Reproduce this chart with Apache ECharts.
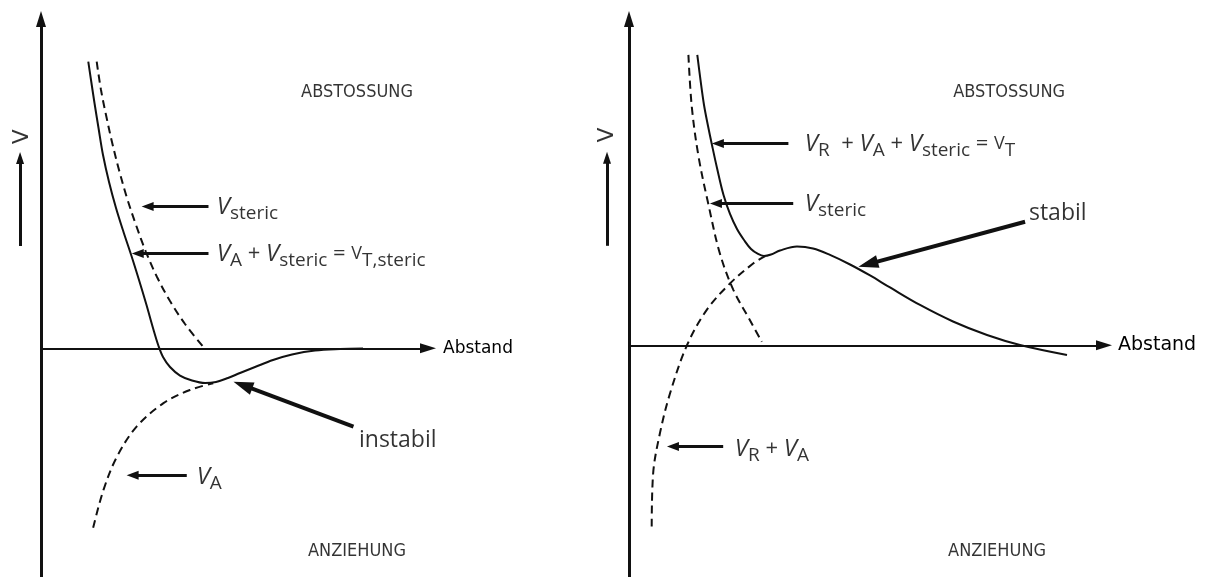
<!DOCTYPE html>
<html>
<head>
<meta charset="utf-8">
<script src="https://cdn.jsdelivr.net/npm/echarts@6/dist/echarts.min.js"></script>
<style>
  html, body { margin: 0; padding: 0; background: #fff; }
  #chart { width: 1207px; height: 577px; }
</style>
</head>
<body>
<div id="chart"></div>
<script>
// Interaction potential V versus particle distance ("Abstand").
// Left panel: steric repulsion + van-der-Waals attraction -> instabil.
// Right panel: electrostatic + attraction + steric -> stabil.

// ---------- left panel curves [distance, V] ----------
const leftTotal = [   // V_A + V_steric = V_T,steric
  [1.197, 5.013], [1.266, 4.693], [1.354, 4.291], [1.456, 3.853], [1.570, 3.381],
  [1.722, 2.909], [1.899, 2.454], [2.089, 2.034], [2.291, 1.614], [2.481, 1.194],
  [2.671, 0.757], [2.835, 0.355], [2.975, 0.040], [3.089, -0.152], [3.266, -0.327],
  [3.519, -0.476], [3.823, -0.563], [4.152, -0.607], [4.430, -0.589], [4.734, -0.519],
  [5.038, -0.432], [5.418, -0.327], [5.873, -0.204], [6.354, -0.108], [6.937, -0.038],
  [7.570, -0.012], [8.152, -0.003]
];
const leftSteric = [  // V_steric
  [1.410, 5.013], [1.519, 4.518], [1.646, 4.081], [1.797, 3.609], [1.975, 3.119],
  [2.177, 2.629], [2.405, 2.157], [2.658, 1.684], [2.937, 1.247], [3.266, 0.827],
  [3.646, 0.425], [4.109, 0.023]
];
const leftAttraction = [  // V_A
  [1.32, -3.14], [1.58, -2.48], [1.92, -1.90], [2.42, -1.37], [3.10, -0.96],
  [3.77, -0.73], [4.36, -0.61]
];

// ---------- right panel curves [distance, V] ----------
const rightTotal = [  // V_R + V_A + V_steric = V_T
  [1.414, 5.078], [1.480, 4.641], [1.553, 4.203], [1.636, 3.836], [1.718, 3.503],
  [1.822, 3.101], [1.957, 2.628], [2.091, 2.297], [2.236, 2.034], [2.381, 1.842],
  [2.526, 1.684], [2.671, 1.597], [2.795, 1.562], [2.940, 1.588], [3.126, 1.658],
  [3.478, 1.728], [3.810, 1.693], [4.161, 1.580], [4.576, 1.413], [4.990, 1.221],
  [5.404, 1.011], [6.025, 0.705], [6.708, 0.416], [7.412, 0.180], [8.095, 0.005],
  [9.068, -0.170]
];
const rightSteric = [ // V_steric
  [1.23, 5.08], [1.30, 4.17], [1.44, 3.30], [1.64, 2.48], [1.88, 1.61],
  [2.16, 0.97], [2.49, 0.46], [2.75, 0.06]
];
const rightRepAttr = [ // V_R + V_A
  [0.47, -3.17], [0.50, -2.24], [0.64, -1.54], [0.85, -0.84], [1.20, 0.00],
  [1.61, 0.62], [2.09, 1.08], [2.57, 1.43], [2.82, 1.56]
];

// ---------- pointer arrows [from, to] in data units ----------
const leftPointers = [
  [[4.24, 2.48], [2.70, 2.48]],
  [[4.24, 1.66], [2.45, 1.66]],
  [[3.69, -2.22], [2.32, -2.22]]
];
const leftStrongPointers = [[[7.91, -1.37], [5.11, -0.645]]];
const rightPointers = [
  [[3.30, 3.53], [1.84, 3.53]],
  [[3.40, 2.48], [1.80, 2.48]],
  [[1.95, -1.77], [0.91, -1.77]]
];
const rightStrongPointers = [[[8.20, 2.16], [4.95, 1.42]]];
const leftAxisPointer = [[[-0.53, 1.79], [-0.53, 3.33]]];
const rightAxisPointer = [[[-0.455, 1.74], [-0.455, 3.28]]];

// ---------- labels ----------
const leftLabelTexts = [
  '{v|V}{s|steric}',
  '{v|V}{s|A}{o| + }{v|V}{s|steric}{o| = }{u|V}{s|T,steric}',
  '{w|instabil}',
  '{v|V}{s|A}',
  '{cap|ABSTOSSUNG}',
  '{cap|ANZIEHUNG}',
  '{ax|V}'
];
const leftLabelAnchors = [[4.45, 2.47], [4.45, 1.65], [8.05, -1.62], [3.94, -2.25], [8.0, 4.48], [8.0, -3.55], [-0.48, 3.70]];
const rightLabelTexts = [
  '{v|V}{s|R}{o|  + }{v|V}{s|A}{o| + }{v|V}{s|steric}{o| = }{u|V}{s|T}',
  '{v|V}{s|steric}',
  '{w|stabil}',
  '{v|V}{s|R}{o| + }{v|V}{s|A}',
  '{cap|ABSTOSSUNG}',
  '{cap|ANZIEHUNG}',
  '{ax|V}'
];
const rightLabelAnchors = [[3.64, 3.52], [3.64, 2.47], [8.28, 2.31], [2.19, -1.81], [7.87, 4.43], [7.62, -3.60], [-0.455, 3.68]];
const labelKinds = ['left', 'left', 'left', 'left', 'center', 'center', 'rotated'];

const INK = '#000';
const rich = {
  v:   { fontFamily: 'Open Sans', fontStyle: 'italic', fontSize: 24, lineHeight: 32, color: INK },
  s:   { fontFamily: 'Open Sans', fontSize: 19, lineHeight: 16, verticalAlign: 'bottom', color: INK },
  o:   { fontFamily: 'Open Sans', fontSize: 22, lineHeight: 32, color: INK },
  u:   { fontFamily: 'Open Sans', fontSize: 18, lineHeight: 32, color: INK },
  w:   { fontFamily: 'Open Sans', fontSize: 23, lineHeight: 32, color: INK },
  cap: { fontFamily: '"DejaVu Sans Condensed", "Liberation Sans Narrow", "Liberation Sans", sans-serif', fontSize: 18, color: INK },
  ax:  { fontFamily: 'DejaVu Sans', fontSize: 22, color: INK }
};

function curve(g, data, dashed) {
  return {
    type: 'line', xAxisIndex: g, yAxisIndex: g, data: data,
    smooth: 0.35, showSymbol: false, silent: true,
    lineStyle: { color: '#111', width: 2, type: dashed ? [8, 5] : 'solid' },
    z: 2
  };
}

function pointers(g, list, head, width) {
  return {
    type: 'lines', coordinateSystem: 'cartesian2d', xAxisIndex: g, yAxisIndex: g,
    symbol: ['none', 'triangle'], symbolSize: [0, head], clip: false, silent: true,
    lineStyle: { color: '#111', width: width, opacity: 1, curveness: 0 },
    data: list.map(c => ({ coords: c })), z: 3
  };
}

function labels(g, texts, anchors) {
  return {
    type: 'scatter', xAxisIndex: g, yAxisIndex: g, symbolSize: 0, clip: false, silent: true,
    label: { show: true, rich: rich },
    data: texts.map((t, i) => {
      const kind = labelKinds[i];
      return {
        value: anchors[i],
        label: {
          show: true, formatter: t, distance: 0,
          position: kind === 'left' ? 'right' : 'inside',
          rotate: kind === 'rotated' ? 90 : 0
        }
      };
    }),
    z: 4
  };
}

function xAxis(g, max, fontSize, gap) {
  return {
    gridIndex: g, type: 'value', min: 0, max: max,
    name: 'Abstand', nameLocation: 'end', nameGap: gap,
    nameTextStyle: { fontFamily: 'DejaVu Sans', fontSize: fontSize, color: INK, align: 'left', verticalAlign: 'middle' },
    axisLine: { onZero: true, symbol: ['none', 'triangle'], symbolSize: [10, 16], lineStyle: { color: '#111', width: 2 } },
    axisTick: { show: false }, axisLabel: { show: false }, splitLine: { show: false }
  };
}

function yAxis(g, min, max) {
  return {
    gridIndex: g, type: 'value', min: min, max: max,
    axisLine: { onZero: true, symbol: ['none', 'triangle'], symbolSize: [10, 16], lineStyle: { color: '#111', width: 3 } },
    axisTick: { show: false }, axisLabel: { show: false }, splitLine: { show: false }
  };
}

const chart = echarts.init(document.getElementById('chart'), null, { renderer: 'canvas' });
chart.setOption({
  backgroundColor: '#fff',
  animation: false,
  grid: [
    { left: 41, top: 19, width: 387, height: 558 },
    { left: 629, top: 19, width: 475, height: 558 }
  ],
  xAxis: [xAxis(0, 9.797, 17, 15), xAxis(1, 9.834, 19, 14)],
  yAxis: [yAxis(0, -4, 5.76), yAxis(1, -4.053, 5.707)],
  series: [
    curve(0, leftTotal, false),
    curve(0, leftSteric, true),
    curve(0, leftAttraction, true),
    curve(1, rightTotal, false),
    curve(1, rightSteric, true),
    curve(1, rightRepAttr, true),
    pointers(0, leftPointers, [9, 12], 3),
    pointers(0, leftStrongPointers, [13, 20], 4),
    pointers(0, leftAxisPointer, [8, 12], 3),
    pointers(1, rightPointers, [9, 12], 3),
    pointers(1, rightStrongPointers, [13, 20], 4),
    pointers(1, rightAxisPointer, [8, 12], 3),
    labels(0, leftLabelTexts, leftLabelAnchors),
    labels(1, rightLabelTexts, rightLabelAnchors)
  ]
});
</script>
</body>
</html>
